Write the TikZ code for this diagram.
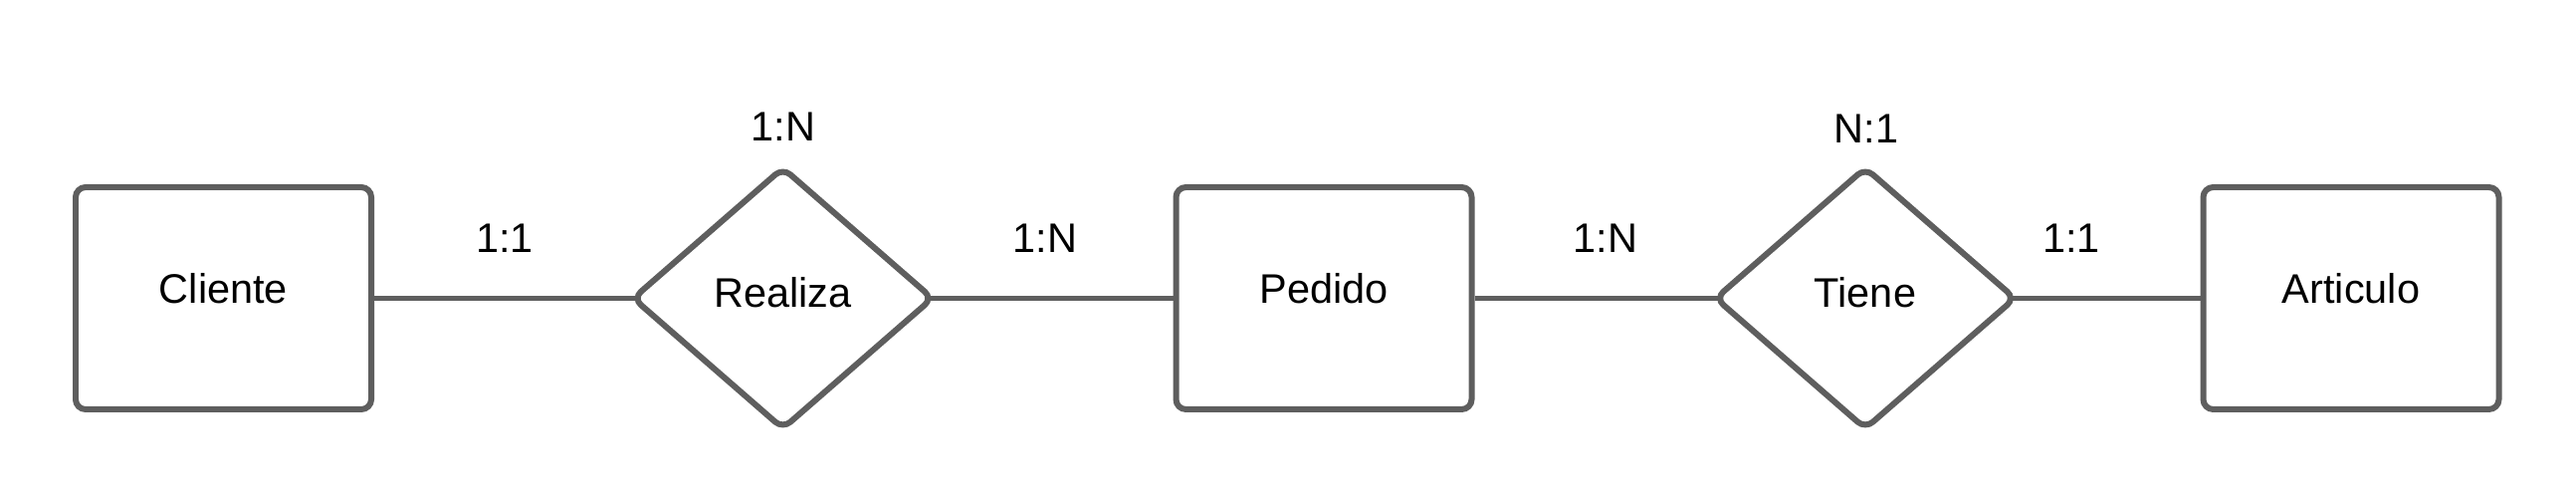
\documentclass[tikz,border=0pt]{standalone}
\usepackage{fontspec}
\setmainfont{Liberation Sans}
\usetikzlibrary{shapes.geometric, positioning}
\definecolor{linegray}{HTML}{5E5E5E}

\begin{document}
\begin{tikzpicture}[font=\fontsize{11.8}{14}\selectfont]
% Define styles
\tikzstyle{entity} = [rectangle, rounded corners=0.1cm, minimum width=2.97cm, minimum height=2.23cm, text depth=0.2cm, text centered, draw=linegray, line width=0.06cm]
\tikzstyle{relation} = [diamond, rounded corners=0.1cm, minimum width=3.03cm, minimum height=2.64cm, inner sep=0pt, text depth=0.13cm, text centered, draw=linegray, line width=0.06cm]
\tikzstyle{link} = [draw=linegray, line width=0.045cm]
\tikzstyle{card} = [inner sep=0pt]

\useasboundingbox (0,0) rectangle (25.88,5.06);

% Nodes
\node (cliente) [entity] at (2.245,2.065) {Cliente};
\node (realiza) [relation, right=2.56cm of cliente] {Realiza};
\node (pedido) [entity, right=2.375cm of realiza] {Pedido};
\node (tiene) [relation, right=2.38cm of pedido] {Tiene};
\node (articulo) [entity, right=1.82cm of tiene] {Articulo};

% Cardinalities
\node (cardA) [card] at (7.87,3.79) {1:N};
\node (cardB) [card] at (5.07,2.67) {1:1};
\node (cardC) [card] at (10.50,2.67) {1:N};
\node (cardD) [card] at (16.13,2.67) {1:N};
\node (cardE) [card] at (18.75,3.77) {N:1};
\node (cardF) [card] at (20.81,2.67) {1:1};

% Links
\draw[link, shorten >=-0.07cm] (cliente) -- (realiza);
\draw[link, shorten <=-0.07cm] (realiza) -- (pedido);
\draw[link, shorten >=-0.07cm] (pedido) -- (tiene);
\draw[link, shorten <=-0.07cm] (tiene) -- (articulo);
\end{tikzpicture}
\end{document}
